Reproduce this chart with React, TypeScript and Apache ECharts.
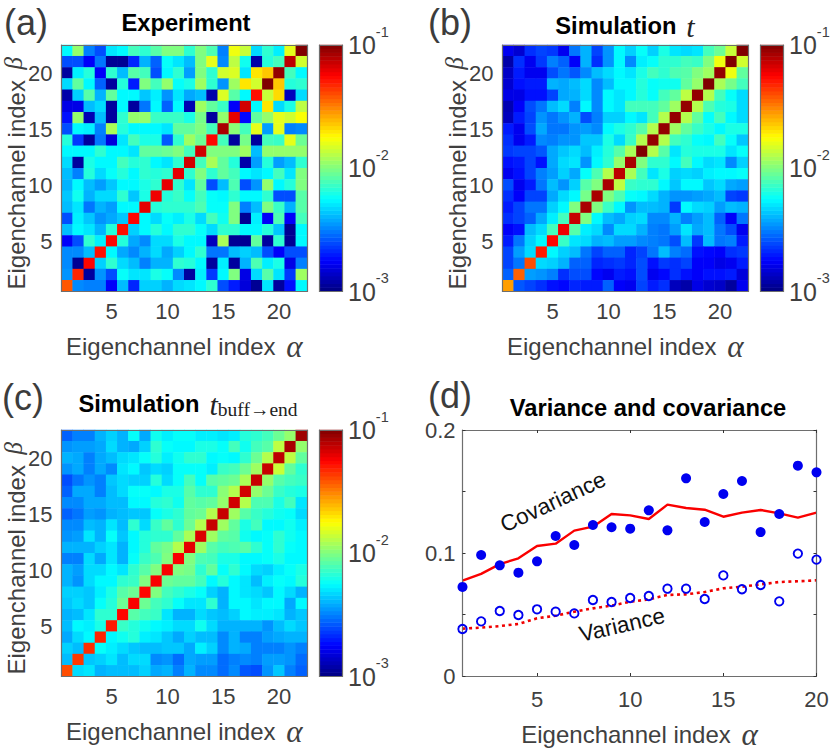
import { useEffect, useRef } from 'react';
import * as echarts from 'echarts';

// cell levels, top row is beta = 22. 0 = 10^-3, 100 = 10^-1 on the log colour scale
const experimentRows = [
  [37, 52, 25, 20, 35, 37, 44, 42, 46, 50, 50, 42, 50, 45, 25, 61, 57, 34, 42, 36, 60, 100],
  [20, 20, 12, 24, 2, 2, 16, 30, 22, 38, 35, 31, 50, 60, 26, 56, 39, 4, 41, 44, 94, 58],
  [3, 36, 41, 12, 42, 31, 46, 44, 20, 37, 42, 28, 50, 42, 58, 59, 35, 65, 68, 98, 44, 37],
  [34, 47, 37, 22, 3, 41, 15, 50, 44, 52, 38, 40, 53, 42, 27, 53, 65, 58, 100, 68, 41, 42],
  [4, 33, 46, 30, 47, 37, 37, 32, 36, 27, 35, 29, 31, 4, 59, 46, 37, 86, 57, 66, 6, 34],
  [10, 10, 31, 34, 3, 37, 3, 24, 37, 22, 37, 5, 53, 47, 43, 12, 92, 37, 65, 34, 40, 56],
  [14, 52, 5, 31, 3, 42, 52, 52, 43, 43, 43, 40, 49, 3, 52, 90, 13, 47, 52, 60, 58, 62],
  [20, 37, 36, 25, 54, 41, 37, 37, 37, 35, 47, 47, 50, 44, 96, 51, 44, 60, 28, 60, 25, 26],
  [41, 18, 3, 24, 9, 35, 44, 40, 40, 21, 42, 53, 48, 87, 44, 3, 49, 3, 44, 43, 60, 48],
  [37, 37, 37, 42, 37, 37, 35, 47, 47, 48, 50, 44, 92, 50, 50, 50, 53, 31, 52, 52, 52, 52],
  [34, 3, 40, 37, 37, 44, 41, 42, 37, 35, 42, 92, 44, 54, 47, 41, 4, 28, 41, 28, 31, 42],
  [31, 25, 41, 34, 38, 41, 37, 42, 41, 42, 90, 42, 50, 42, 47, 44, 37, 35, 37, 44, 35, 50],
  [30, 37, 31, 28, 32, 37, 37, 40, 42, 90, 42, 35, 47, 20, 31, 45, 20, 27, 52, 37, 41, 50],
  [32, 39, 30, 34, 34, 42, 32, 40, 89, 41, 43, 38, 44, 38, 37, 42, 37, 37, 42, 20, 20, 46],
  [31, 35, 24, 30, 28, 37, 37, 90, 41, 42, 42, 42, 45, 38, 38, 50, 25, 31, 50, 43, 30, 46],
  [20, 36, 32, 27, 29, 32, 87, 37, 34, 38, 36, 40, 34, 44, 39, 50, 2, 36, 12, 45, 12, 44],
  [31, 37, 35, 30, 41, 86, 33, 37, 41, 37, 42, 42, 38, 34, 42, 42, 37, 37, 41, 32, 2, 37],
  [12, 20, 42, 36, 87, 41, 29, 26, 34, 34, 40, 37, 37, 6, 54, 2, 2, 47, 3, 42, 2, 37],
  [26, 26, 31, 86, 37, 29, 26, 30, 34, 29, 33, 37, 42, 24, 24, 31, 33, 31, 20, 12, 20, 20],
  [26, 2, 87, 33, 42, 34, 31, 25, 30, 30, 42, 41, 37, 3, 36, 3, 30, 45, 36, 40, 10, 25],
  [27, 84, 3, 27, 20, 38, 35, 35, 40, 38, 26, 3, 36, 18, 37, 50, 10, 34, 46, 35, 18, 53],
  [79, 26, 25, 25, 12, 31, 16, 33, 33, 30, 34, 35, 37, 42, 20, 15, 9, 2, 35, 3, 14, 37],
];

const simulationRows = [
  [11, 8, 17, 19, 18, 11, 24, 30, 19, 27, 37, 33, 38, 33, 40, 35, 34, 35, 44, 48, 57, 100],
  [4, 17, 11, 18, 25, 22, 12, 30, 17, 27, 37, 26, 36, 38, 42, 42, 44, 43, 50, 61, 100, 58],
  [7, 15, 11, 11, 20, 24, 21, 26, 31, 34, 37, 35, 40, 44, 42, 45, 46, 50, 53, 98, 61, 47],
  [8, 14, 15, 15, 30, 29, 31, 34, 26, 31, 37, 37, 41, 38, 39, 39, 47, 52, 100, 54, 49, 44],
  [10, 10, 14, 14, 19, 29, 30, 34, 26, 37, 35, 37, 41, 38, 44, 47, 56, 98, 55, 44, 38, 34],
  [5, 12, 20, 24, 31, 34, 25, 37, 26, 37, 35, 44, 44, 44, 47, 53, 98, 55, 45, 41, 40, 34],
  [6, 15, 19, 27, 24, 27, 30, 20, 25, 33, 33, 37, 35, 44, 55, 98, 55, 47, 38, 44, 37, 34],
  [15, 11, 20, 29, 24, 24, 27, 28, 26, 37, 40, 42, 46, 55, 98, 53, 47, 43, 40, 37, 40, 40],
  [17, 11, 15, 26, 25, 27, 27, 32, 32, 40, 34, 43, 55, 98, 55, 44, 42, 38, 37, 44, 38, 32],
  [18, 19, 19, 21, 29, 32, 34, 31, 36, 41, 46, 54, 100, 55, 46, 35, 41, 40, 40, 40, 35, 38],
  [14, 15, 19, 14, 29, 34, 35, 27, 37, 42, 52, 96, 50, 42, 42, 37, 44, 37, 34, 35, 26, 33],
  [11, 14, 19, 25, 28, 33, 29, 38, 45, 55, 94, 54, 44, 35, 40, 33, 34, 33, 36, 37, 37, 38],
  [20, 11, 15, 24, 31, 27, 33, 46, 50, 96, 56, 43, 42, 42, 37, 32, 37, 37, 32, 34, 29, 28],
  [17, 12, 19, 19, 29, 34, 37, 49, 96, 50, 45, 38, 37, 34, 30, 27, 27, 28, 29, 31, 19, 18],
  [15, 19, 24, 24, 33, 37, 50, 96, 50, 43, 37, 27, 31, 31, 30, 18, 37, 34, 33, 28, 31, 30],
  [17, 19, 22, 29, 36, 44, 93, 50, 37, 31, 29, 33, 34, 26, 26, 30, 25, 28, 31, 22, 12, 24],
  [12, 14, 31, 34, 44, 89, 46, 36, 34, 26, 34, 34, 30, 25, 24, 28, 35, 29, 31, 24, 20, 11],
  [15, 24, 33, 37, 87, 43, 35, 34, 30, 31, 28, 28, 26, 25, 24, 20, 31, 18, 31, 24, 25, 15],
  [19, 28, 34, 85, 37, 33, 31, 24, 19, 22, 22, 16, 19, 24, 31, 25, 23, 14, 13, 12, 17, 18],
  [19, 24, 80, 34, 33, 30, 22, 22, 16, 17, 18, 16, 20, 14, 18, 17, 19, 12, 12, 10, 11, 15],
  [22, 78, 28, 27, 25, 17, 20, 20, 13, 11, 15, 14, 20, 11, 13, 17, 14, 12, 14, 14, 15, 9],
  [72, 21, 19, 17, 14, 13, 16, 15, 15, 22, 12, 11, 19, 15, 17, 6, 4, 10, 8, 7, 3, 11],
];

const buffEndRows = [
  [22, 25, 25, 30, 33, 30, 38, 29, 39, 36, 38, 38, 36, 36, 35, 36, 41, 42, 44, 48, 52, 97],
  [27, 28, 28, 29, 34, 30, 29, 33, 42, 38, 37, 37, 40, 40, 38, 44, 39, 44, 46, 56, 96, 52],
  [30, 29, 25, 29, 31, 34, 35, 38, 41, 36, 39, 42, 42, 37, 38, 37, 42, 48, 55, 94, 56, 47],
  [27, 29, 25, 29, 26, 35, 37, 32, 34, 33, 38, 38, 38, 36, 43, 44, 48, 53, 93, 57, 47, 42],
  [20, 24, 27, 25, 32, 34, 33, 33, 41, 34, 38, 44, 38, 46, 47, 48, 54, 93, 52, 46, 44, 43],
  [22, 29, 29, 25, 31, 34, 38, 38, 37, 40, 40, 46, 42, 42, 51, 55, 92, 52, 48, 43, 41, 40],
  [26, 26, 29, 29, 31, 31, 37, 37, 41, 42, 39, 47, 46, 47, 52, 92, 55, 45, 45, 40, 44, 35],
  [22, 24, 28, 27, 30, 31, 32, 32, 38, 40, 42, 47, 48, 55, 93, 53, 46, 43, 41, 39, 38, 34],
  [26, 26, 31, 30, 35, 31, 42, 34, 43, 47, 42, 48, 55, 93, 53, 47, 40, 44, 37, 37, 39, 36],
  [27, 28, 35, 30, 38, 32, 37, 41, 42, 42, 47, 54, 91, 53, 47, 46, 39, 37, 38, 42, 39, 37],
  [30, 30, 30, 33, 35, 30, 37, 41, 47, 49, 55, 90, 53, 46, 44, 45, 46, 42, 38, 42, 38, 37],
  [25, 25, 34, 29, 35, 30, 38, 43, 45, 50, 88, 50, 45, 44, 40, 40, 37, 37, 38, 40, 37, 37],
  [30, 28, 34, 34, 37, 35, 42, 46, 50, 88, 50, 49, 42, 47, 38, 42, 37, 34, 33, 36, 38, 40],
  [30, 27, 34, 37, 37, 42, 43, 50, 88, 48, 47, 47, 44, 37, 41, 37, 35, 31, 36, 38, 37, 41],
  [33, 33, 32, 36, 40, 46, 48, 87, 50, 44, 42, 40, 38, 33, 30, 37, 35, 34, 32, 37, 34, 30],
  [32, 34, 32, 38, 41, 48, 88, 48, 44, 42, 38, 35, 35, 42, 30, 37, 37, 35, 37, 37, 29, 37],
  [30, 31, 35, 42, 42, 87, 46, 44, 43, 35, 30, 30, 34, 32, 31, 33, 37, 36, 36, 35, 30, 32],
  [31, 37, 36, 40, 85, 43, 41, 39, 37, 36, 34, 34, 39, 34, 30, 30, 30, 30, 27, 31, 34, 32],
  [29, 34, 37, 84, 37, 39, 41, 36, 35, 32, 29, 33, 31, 31, 26, 30, 25, 25, 28, 29, 30, 30],
  [33, 31, 83, 38, 36, 34, 32, 31, 31, 32, 32, 29, 36, 33, 26, 30, 29, 25, 25, 25, 27, 25],
  [31, 82, 32, 33, 35, 31, 34, 34, 26, 27, 23, 29, 28, 28, 23, 25, 26, 25, 28, 28, 27, 23],
  [80, 34, 35, 30, 31, 31, 31, 33, 29, 30, 25, 30, 26, 26, 23, 26, 21, 20, 27, 32, 25, 22],
];

// panel (d), alpha = 1..20
const alphaValues = [1, 2, 3, 4, 5, 6, 7, 8, 9, 10, 11, 12, 13, 14, 15, 16, 17, 18, 19, 20];
const covarianceMeasured = [0.0724, 0.0984, 0.09, 0.084, 0.0932, 0.1138, 0.1065, 0.1228, 0.1209, 0.1198, 0.1347, 0.1184, 0.1607, 0.1252, 0.148, 0.1585, 0.117, 0.1317, 0.171, 0.1656];
const varianceMeasured = [0.0382, 0.0444, 0.0528, 0.0496, 0.0542, 0.0523, 0.0509, 0.0618, 0.0602, 0.0634, 0.065, 0.071, 0.071, 0.0626, 0.0818, 0.0705, 0.074, 0.0607, 0.0995, 0.0946];
const covarianceSim = [0.0775, 0.083, 0.091, 0.0957, 0.1057, 0.1076, 0.1182, 0.1214, 0.1317, 0.1306, 0.1276, 0.1393, 0.1366, 0.1352, 0.1295, 0.1328, 0.135, 0.1322, 0.1287, 0.1328];
const varianceSim = [0.0385, 0.0393, 0.0406, 0.0423, 0.0469, 0.049, 0.0523, 0.055, 0.0572, 0.0604, 0.0623, 0.0659, 0.0664, 0.0683, 0.0713, 0.0726, 0.0745, 0.0764, 0.077, 0.0778];

const channelLabels = experimentRows.map((_, i) => String(i + 1));
const colorbarSteps = Array.from({ length: 64 }, (_, i) => i);
const JET = ['#000080', '#0000ff', '#0080ff', '#00ffff', '#80ff80', '#ffff00', '#ff8000', '#ff0000', '#800000'];

const TEXT = '#404040';
const FRAME = '#6e6e6e';
const SANS = '"Liberation Sans", Arial, sans-serif';
const SERIF = '"Liberation Serif", serif';
const TICK_FONT = 22;
const NAME_FONT = 24;

const nameRich = {
  s: { fontFamily: SANS, fontSize: NAME_FONT, color: TEXT },
  m: { fontFamily: SERIF, fontStyle: 'italic', fontSize: NAME_FONT + 7, color: TEXT, padding: [0, 0, 0, 4] },
  b: { fontFamily: SERIF, fontStyle: 'italic', fontSize: NAME_FONT + 1, color: TEXT, padding: [0, 10, 6, 4] },
};
const titleRich = {
  s: { fontFamily: SANS, fontWeight: 'bold', fontSize: 23.7, color: '#000' },
  m: { fontFamily: SERIF, fontStyle: 'italic', fontWeight: 'normal', fontSize: 30, color: '#222' },
  u: { fontFamily: SERIF, fontWeight: 'normal', fontSize: 19.5, color: '#222', verticalAlign: 'bottom', padding: [8, 0, 0, 0] },
};

const isFifth = (i: number) => (i + 1) % 5 === 0;

export default function App() {
  const chartRef = useRef<HTMLDivElement>(null);

  useEffect(() => {
    if (!chartRef.current) return;
    const chart = echarts.init(chartRef.current, undefined, { renderer: 'svg' });

    const grid: any[] = [];
    const xAxis: any[] = [];
    const yAxis: any[] = [];
    const series: any[] = [];

    const frameLine = { show: true, onZero: false, lineStyle: { color: FRAME, width: 1.2 } };
    const tick = { inside: true, length: 3, lineStyle: { color: '#333', width: 1 } };

    const addHeatPanel = (left: number, top: number, rows: number[][]) => {
      const g = grid.length;
      grid.push({ left, top, width: 245.5, height: 246.5, outerBoundsMode: 'none' });
      const shared = { type: 'category', data: channelLabels, gridIndex: g, z: 5, axisLine: frameLine };
      const ticks = { ...tick, alignWithLabel: true, interval: (i: number) => isFifth(i) };
      const labels = { interval: (i: number) => isFifth(i), color: TEXT, fontSize: TICK_FONT, fontFamily: SANS, margin: 9 };
      const xIdx = xAxis.length;
      const yIdx = yAxis.length;
      xAxis.push(
        {
          ...shared, position: 'bottom', axisTick: ticks, axisLabel: labels,
          name: '{s|Eigenchannel index}  {m|α}', nameLocation: 'middle', nameGap: 39, nameMoveOverlap: false,
          nameTextStyle: { rich: nameRich },
        },
        { ...shared, position: 'top', axisTick: ticks, axisLabel: { show: false } },
      );
      yAxis.push(
        {
          ...shared, position: 'left', axisTick: ticks, axisLabel: labels,
          name: '{s|Eigenchannel index}  {b|β}', nameLocation: 'middle', nameRotate: 90, nameGap: 30, nameMoveOverlap: false,
          nameTextStyle: { rich: nameRich },
        },
        { ...shared, position: 'right', axisTick: ticks, axisLabel: { show: false } },
      );
      series.push({
        type: 'heatmap',
        xAxisIndex: xIdx,
        yAxisIndex: yIdx,
        data: rows.flatMap((row, r) => row.map((v, c) => [c, rows.length - 1 - r, v])),
      });
    };

    const addColorbar = (left: number, top: number) => {
      const g = grid.length;
      grid.push({ left, top, width: 23, height: 246.5, outerBoundsMode: 'none' });
      const xIdx = xAxis.length;
      const yIdx = yAxis.length;
      const plainX = { type: 'category', data: ['0'], gridIndex: g, z: 5, axisLine: frameLine, axisTick: { show: false }, axisLabel: { show: false } };
      xAxis.push({ ...plainX, position: 'bottom' }, { ...plainX, position: 'top' });
      yAxis.push(
        { type: 'category', data: colorbarSteps.map(String), gridIndex: g, position: 'left', z: 5, axisLine: frameLine, axisTick: { show: false }, axisLabel: { show: false } },
        {
          type: 'value', gridIndex: g, position: 'right', min: -3, max: -1, interval: 1, z: 5,
          axisLine: frameLine, axisTick: tick, splitLine: { show: false },
          axisLabel: {
            margin: 5.5,
            formatter: (v: number) => `{a|10}{b|${v}}`,
            rich: {
              a: { fontFamily: SANS, fontSize: 25, color: TEXT, lineHeight: 42 },
              b: { fontFamily: SANS, fontSize: 14.5, color: TEXT, verticalAlign: 'top' },
            },
          },
        },
      );
      series.push({
        type: 'heatmap',
        xAxisIndex: xIdx,
        yAxisIndex: yIdx,
        data: colorbarSteps.map((s) => [0, s, ((s + 0.5) / colorbarSteps.length) * 100]),
      });
    };

    addHeatPanel(61.5, 45, experimentRows);
    addColorbar(319.5, 45);
    addHeatPanel(502.5, 45, simulationRows);
    addColorbar(760.5, 45);
    addHeatPanel(61.5, 430, buffEndRows);
    addColorbar(319.5, 430);
    const heatSeries = series.map((_, i) => i);

    // panel (d)
    const g = grid.length;
    grid.push({ left: 462.5, top: 430, width: 354, height: 246, outerBoundsMode: 'none' });
    const xIdx = xAxis.length;
    const yIdx = yAxis.length;
    const xShared = { type: 'value', gridIndex: g, min: 1, max: 20, z: 5, axisLine: frameLine, splitLine: { show: false } };
    const yShared = { type: 'value', gridIndex: g, min: 0, max: 0.2, interval: 0.05, z: 5, axisLine: frameLine, splitLine: { show: false } };
    const xTick = { ...tick, customValues: [5, 10, 15, 20] };
    xAxis.push(
      {
        ...xShared, position: 'bottom', axisTick: xTick,
        axisLabel: { customValues: [5, 10, 15, 20], color: TEXT, fontSize: TICK_FONT, fontFamily: SANS, margin: 12 },
        name: '{s|Eigenchannel index}  {m|α}', nameLocation: 'middle', nameGap: 43, nameMoveOverlap: false,
        nameTextStyle: { rich: nameRich },
      },
      { ...xShared, position: 'top', axisTick: xTick, axisLabel: { show: false } },
    );
    yAxis.push(
      {
        ...yShared, position: 'left', axisTick: tick,
        axisLabel: { customValues: [0, 0.1, 0.2], color: TEXT, fontSize: TICK_FONT, fontFamily: SANS, margin: 7 },
      },
      { ...yShared, position: 'right', axisTick: tick, axisLabel: { show: false } },
    );
    const pairs = (ys: number[]) => alphaValues.map((a, i) => [a, ys[i]]);
    series.push(
      {
        type: 'line', xAxisIndex: xIdx, yAxisIndex: yIdx, data: pairs(covarianceSim), showSymbol: false,
        lineStyle: { color: '#fa0000', width: 2.4 },
      },
      {
        type: 'line', xAxisIndex: xIdx, yAxisIndex: yIdx, data: pairs(varianceSim), showSymbol: false,
        lineStyle: { color: '#f00000', width: 2.6, type: [3, 3.6] },
      },
      {
        type: 'scatter', xAxisIndex: xIdx, yAxisIndex: yIdx, data: pairs(covarianceMeasured), symbolSize: 10, clip: false, z: 6,
        itemStyle: { color: '#0000f0', opacity: 1 },
      },
      {
        type: 'scatter', xAxisIndex: xIdx, yAxisIndex: yIdx, data: pairs(varianceMeasured), symbolSize: 8.4, clip: false, z: 6,
        itemStyle: { color: 'rgba(0,0,0,0)', borderColor: '#0000f0', borderWidth: 1.9, opacity: 1 },
      },
    );

    const panelTitle = (text: string, left: number, top: number) => ({
      text, left, top, textAlign: 'center', padding: 0, textStyle: { rich: titleRich },
    });
    const panelTag = (text: string, x: number, y: number) => ({
      type: 'text', x, y,
      style: { text, fontFamily: SANS, fontSize: 36, fill: '#3c3c3c', align: 'left', verticalAlign: 'middle' },
    });
    const note = (text: string, x: number, y: number, deg: number) => ({
      type: 'text', x, y, rotation: (deg * Math.PI) / 180, z: 10,
      style: { text, fontFamily: SANS, fontSize: 22.5, fill: '#111', align: 'center', verticalAlign: 'middle' },
    });

    chart.setOption({
      animation: false,
      backgroundColor: '#fff',
      title: [
        panelTitle('{s|Experiment}', 186, 11),
        panelTitle('{s|Simulation}  {m|t}', 625, 11),
        panelTitle('{s|Simulation}  {m|t}{u|buff→end}', 188, 389),
        panelTitle('{s|Variance and covariance}', 648, 396),
      ],
      grid,
      xAxis,
      yAxis,
      visualMap: {
        type: 'continuous', show: false, min: 0, max: 100, seriesIndex: heatSeries,
        inRange: { color: JET },
      },
      series,
      graphic: [
        panelTag('(a)', 4, 22),
        panelTag('(b)', 428, 22),
        panelTag('(c)', 2, 397),
        panelTag('(d)', 428, 395),
        note('Covariance', 553, 502, 25),
        note('Variance', 622, 625, 13),
      ],
    });

    return () => {
      chart.dispose();
    };
  }, []);

  return <div ref={chartRef} style={{ position: 'absolute', left: 0, top: 0, width: 830, height: 753 }} />;
}
